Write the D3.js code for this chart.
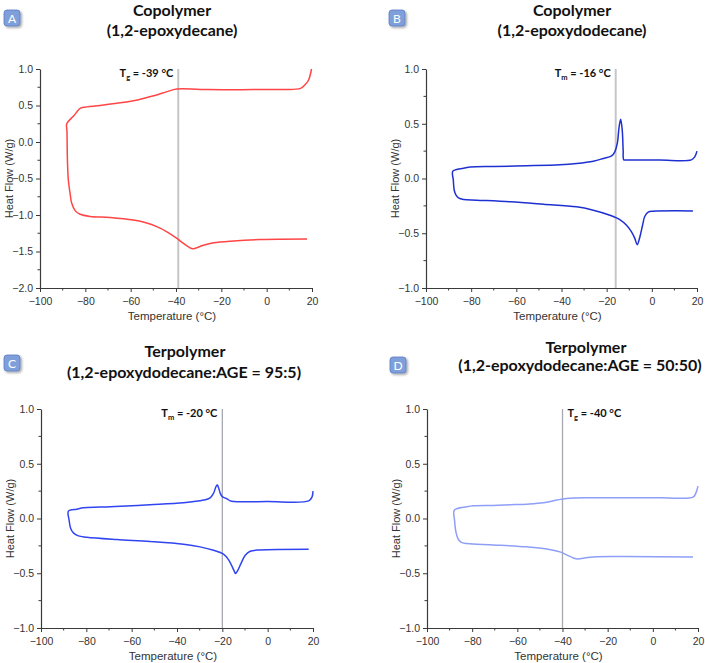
<!DOCTYPE html>
<html>
<head>
<meta charset="utf-8">
<script src="https://cdn.jsdelivr.net/npm/d3@7"></script>
<style>
  html, body { margin: 0; padding: 0; background: #ffffff; }
  svg { display: block; }
</style>
</head>
<body>
<svg id="chart" width="705" height="663"></svg>
<script>
// ---------------- DATA ----------------
const panelLetters = ["A", "B", "C", "D"];
const titleLine1 = ["Copolymer", "Copolymer", "Terpolymer", "Terpolymer"];
const titleLine2 = ["(1,2-epoxydecane)", "(1,2-epoxydodecane)", "(1,2-epoxydodecane:AGE = 95:5)", "(1,2-epoxydodecane:AGE = 50:50)"];
const markerTemps = [-39, -16, -20, -40];
const markerSymbol = ["g", "m", "m", "g"];
const markerText = ["= -39 °C", "= -16 °C", "= -20 °C", "= -40 °C"];
const xTicks = [-100, -80, -60, -40, -20, 0, 20];
const yTicksA = [-2.0, -1.5, -1.0, -0.5, 0.0, 0.5, 1.0];
const yTicksBCD = [-1.0, -0.5, 0.0, 0.5, 1.0];
const xLabel = "Temperature (°C)";
const yLabel = "Heat Flow (W/g)";

// Panel A (1,2-epoxydecane copolymer) - trace starting at the top-right end
const tempA = [19.8, 18.5, 17.1, 14.9, 8, 0.1, -14.6, -29.3, -39.6, -44, -48.5, -52.9, -58.8, -66.1, -73.5, -80.9, -82.3,
  -85.2, -88.2, -88.1, -87.9, -87.5, -86.7, -86, -84.5, -82.3, -77.9, -69.1, -58.8, -52.9, -48.5, -44, -39.6, -36.7, -33, -31.5,
  -27.9, -23.4, -14.6, -2.8, 17.8];
const flowA = [1.0, 0.85, 0.79, 0.735, 0.72, 0.72, 0.715, 0.72, 0.725, 0.69, 0.645, 0.61, 0.565, 0.53, 0.50, 0.475, 0.46,
  0.355, 0.25, 0.15, -0.25, -0.52, -0.71, -0.84, -0.94, -0.99, -1.02, -1.035, -1.07, -1.11, -1.16, -1.23, -1.32, -1.39, -1.46, -1.455,
  -1.415, -1.38, -1.355, -1.337, -1.33];

// Panel B (1,2-epoxydodecane copolymer)
const tempB = [20, 19, 17.5, 3.5, -11.2, -12.4, -12.7, -13.1, -13.8, -14.5, -15.3, -16.4, -17.8, -21.5, -25.9, -33.3,
  -40.7, -55.4, -70.1, -80.4, -83.4, -88.1, -87.9, -87.5, -86.7, -85.6, -83.4, -77.5, -62.7, -48, -33.3, -25.9, -18.6,
  -14.2, -11.2, -9, -7.5, -6.5, -5.3, -4.1, -3.1, -1.6, 0.6, 18.2];
const flowB = [0.25, 0.198, 0.17, 0.168, 0.17, 0.17, 0.26, 0.44, 0.54, 0.47, 0.32, 0.244, 0.207, 0.183, 0.158, 0.137,
  0.125, 0.116, 0.11, 0.104, 0.094, 0.067, -0.015, -0.107, -0.152, -0.177, -0.192, -0.198, -0.213, -0.235, -0.259, -0.29, -0.335,
  -0.375, -0.427, -0.488, -0.549, -0.605, -0.534, -0.427, -0.345, -0.308, -0.299, -0.296];

// Panel C (terpolymer 95:5)
const tempC = [20, 19.6, 18.1, -0.3, -15, -16.5, -18, -19.5, -20.2, -20.9, -21.7, -22.2, -22.7, -23.9, -25.4, -28.3,
  -37.1, -51.9, -67.3, -73.9, -81.3, -84.2, -87.9, -87.6, -86.9, -85.7, -83.5, -79.8, -66.6, -51.9, -37.1, -29.8, -23.9,
  -19.5, -17.3, -15.8, -14.6, -14.2, -13.3, -11.8, -9.9, -7.7, -3.3, 18.1];
const flowC = [0.25, 0.198, 0.161, 0.155, 0.155, 0.161, 0.18, 0.192, 0.204, 0.229, 0.283, 0.305, 0.296, 0.229, 0.189, 0.168,
  0.143, 0.125, 0.11, 0.104, 0.098, 0.085, 0.067, -0.015, -0.091, -0.131, -0.159, -0.171, -0.192, -0.21, -0.235, -0.259, -0.29,
  -0.326, -0.375, -0.433, -0.488, -0.503, -0.479, -0.412, -0.335, -0.299, -0.287, -0.28];

// Panel D (terpolymer 50:50)
const tempD = [20, 19, 17.8, 3.1, -26.4, -38.2, -42.6, -48.5, -55.8, -63.2, -70.6, -79.4, -82.3, -87.9, -87.8, -87.2,
  -86.3, -85, -82.3, -70.6, -55.8, -47, -41.1, -38.2, -35.2, -33, -30.8, -26.4, -11.7, 17.8];
const flowD = [0.296, 0.229, 0.195, 0.189, 0.189, 0.183, 0.168, 0.143, 0.131, 0.125, 0.119, 0.116, 0.107, 0.076, -0.015, -0.122,
  -0.183, -0.216, -0.229, -0.241, -0.259, -0.278, -0.305, -0.332, -0.36, -0.369, -0.363, -0.351, -0.348, -0.351];

const temps = [tempA, tempB, tempC, tempD];
const flows = [flowA, flowB, flowC, flowD];
const yDomains = [[-2, 1], [-1, 1], [-1, 1], [-1, 1]];
const yTickSets = [yTicksA, yTicksBCD, yTicksBCD, yTicksBCD];

// ---------------- LAYOUT / STYLE ----------------
const boxes = [
  {l: 40,  r: 312, t: 69,  b: 288},
  {l: 426, r: 697, t: 69,  b: 288},
  {l: 41,  r: 313, t: 409, b: 628},
  {l: 427, r: 698, t: 409, b: 628}
];
const curveColors = ["#ff4545", "#1f30d2", "#3044f0", "#8f9ef6"];
const vlineStyle = [
  {c: "#c6c6c6", w: 2}, {c: "#c6c6c6", w: 2}, {c: "#a8a8b0", w: 1.3}, {c: "#a8a8b0", w: 1.3}
];
const titlePos = [
  {x1: 172, y1: 16, x2: 172, y2: 36},
  {x1: 572, y1: 16, x2: 572, y2: 36},
  {x1: 185, y1: 357, x2: 184, y2: 378},
  {x1: 586, y1: 353, x2: 580, y2: 371}
];
const letterPos = [
  {x: 4, y: 10}, {x: 389, y: 10}, {x: 4, y: 355}, {x: 390, y: 357}
];
const annotSide = ["left", "left", "left", "right"];

const svg = d3.select("#chart");
const defs = svg.append("defs");
const f = defs.append("filter").attr("id", "shadow").attr("x", "-30%").attr("y", "-30%").attr("width", "180%").attr("height", "180%");
f.append("feDropShadow").attr("dx", 1.5).attr("dy", 1.5).attr("stdDeviation", 1.2).attr("flood-color", "#000").attr("flood-opacity", 0.35);

const titleFont = "Lato, 'Open Sans', sans-serif";
const axisFont = "'Liberation Sans', Arial, sans-serif";

for (let i = 0; i < 4; i++) {
  const bx = boxes[i];
  const x = d3.scaleLinear().domain([-100, 20]).range([bx.l, bx.r]);
  const y = d3.scaleLinear().domain(yDomains[i]).range([bx.b, bx.t]);
  const g = svg.append("g");

  // marker vertical line
  const vs = vlineStyle[i];
  g.append("line")
    .attr("x1", x(markerTemps[i])).attr("x2", x(markerTemps[i]))
    .attr("y1", bx.t).attr("y2", bx.b)
    .attr("stroke", vs.c).attr("stroke-width", vs.w);

  // axes
  const xMinor = d3.range(-90, 20, 20);
  const xAxis = d3.axisBottom(x).tickValues(xTicks).tickFormat(d3.format("d")).tickSize(4).tickSizeOuter(0);
  const gx = g.append("g").attr("transform", `translate(0,${bx.b})`).call(xAxis);
  gx.selectAll("line").attr("stroke", "#3a3a3a");
  gx.select(".domain").attr("stroke", "#3a3a3a").attr("stroke-width", 1.2);
  gx.selectAll("text").attr("font-family", axisFont).attr("font-size", 10.5).attr("fill", "#333").attr("dy", "0.95em");
  gx.selectAll(".minor").data(xMinor).enter().append("line")
    .attr("x1", d => x(d)).attr("x2", d => x(d)).attr("y1", 0).attr("y2", 2.5).attr("stroke", "#3a3a3a");

  const yd = yDomains[i];
  const yMinor = d3.range(yd[0] + 0.25, yd[1], 0.5);
  const yAxis = d3.axisLeft(y).tickValues(yTickSets[i]).tickFormat(d3.format(".1f")).tickSize(4).tickSizeOuter(0);
  const gy = g.append("g").attr("transform", `translate(${bx.l},0)`).call(yAxis);
  gy.selectAll("line").attr("stroke", "#3a3a3a");
  gy.select(".domain").attr("stroke", "#3a3a3a").attr("stroke-width", 1.2);
  gy.selectAll("text").attr("font-family", axisFont).attr("font-size", 10.5).attr("fill", "#333").attr("x", -7);
  gy.selectAll(".minor").data(yMinor).enter().append("line")
    .attr("y1", d => y(d)).attr("y2", d => y(d)).attr("x1", 0).attr("x2", -2.5).attr("stroke", "#3a3a3a");

  // axis titles
  g.append("text").attr("x", (bx.l + bx.r) / 2 - 4).attr("y", bx.b + 32)
    .attr("text-anchor", "middle").attr("font-family", axisFont).attr("font-size", 11.5).attr("fill", "#333")
    .text(xLabel);
  g.append("text")
    .attr("transform", `translate(${bx.l - 27},${(bx.t + bx.b) / 2}) rotate(-90)`)
    .attr("text-anchor", "middle").attr("font-family", axisFont).attr("font-size", 11).attr("fill", "#333")
    .text(yLabel);

  // curve
  const pts = temps[i].map((t, k) => [t, flows[i][k]]);
  const line = d3.line().x(d => x(d[0])).y(d => y(d[1])).curve(d3.curveCatmullRom.alpha(0.5));
  g.append("path").datum(pts).attr("d", line)
    .attr("fill", "none").attr("stroke", curveColors[i]).attr("stroke-width", 1.5).attr("stroke-linejoin", "round");

  // annotation
  const ax = x(markerTemps[i]);
  const at = g.append("text").attr("y", bx.t + 8)
    .attr("font-family", titleFont).attr("font-weight", "bold").attr("font-size", 11).attr("fill", "#111");
  at.append("tspan").text("T");
  at.append("tspan").attr("font-size", 7.5).attr("dy", 2.5).text(markerSymbol[i]);
  at.append("tspan").attr("dy", -2.5).text(" " + markerText[i]);
  if (annotSide[i] === "left") {
    at.attr("x", ax - 5).attr("text-anchor", "end");
  } else {
    at.attr("x", ax + 5).attr("text-anchor", "start");
  }

  // titles
  const tp = titlePos[i];
  g.append("text").attr("x", tp.x1).attr("y", tp.y1).attr("text-anchor", "middle")
    .attr("font-family", titleFont).attr("font-weight", "bold").attr("font-size", 16).attr("fill", "#111")
    .text(titleLine1[i]);
  g.append("text").attr("x", tp.x2).attr("y", tp.y2).attr("text-anchor", "middle")
    .attr("font-family", titleFont).attr("font-weight", "bold").attr("font-size", 16).attr("fill", "#111")
    .text(titleLine2[i]);

  // panel letter badge
  const lp = letterPos[i];
  const lg = g.append("g").attr("transform", `translate(${lp.x},${lp.y})`);
  lg.append("rect").attr("width", 16).attr("height", 16).attr("rx", 3).attr("ry", 3)
    .attr("fill", "#7f9fdb").attr("stroke", "#5a7cc4").attr("stroke-width", 0.8).attr("filter", "url(#shadow)");
  lg.append("text").attr("x", 8).attr("y", 12.5).attr("text-anchor", "middle")
    .attr("font-family", titleFont).attr("font-size", 12).attr("fill", "#ffffff").text(panelLetters[i]);
}
</script>
</body>
</html>
